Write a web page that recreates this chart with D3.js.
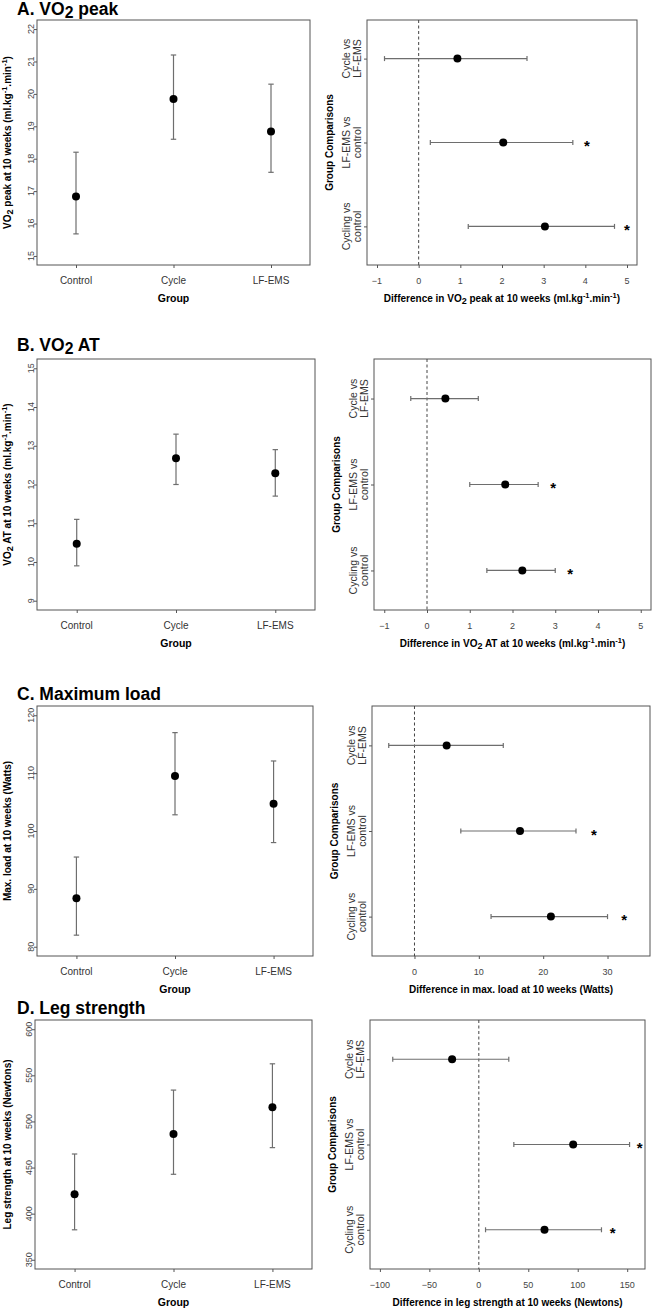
<!DOCTYPE html>
<html><head><meta charset="utf-8">
<script src="https://cdn.jsdelivr.net/npm/d3@7"></script>
<style>
body{margin:0;background:#fff}
text{font-family:"Liberation Sans",Arial,Helvetica,sans-serif}
</style>
</head><body>
<svg id="chart" width="653" height="1310"></svg>
<script>
// ---------- DATA ----------
const groups = ["Control", "Cycle", "LF-EMS"];
const comparisons = [["Cycle vs", "LF-EMS"], ["LF-EMS vs", "control"], ["Cycling vs", "control"]];

// A. VO2 peak
const vo2PeakTicks = [15, 16, 17, 18, 19, 20, 21, 22];
const vo2PeakMean = [16.83, 19.84, 18.84];
const vo2PeakLower = [15.68, 18.6, 17.58];
const vo2PeakUpper = [18.2, 21.2, 20.3];
const vo2PeakDiffTicks = [-1, 0, 1, 2, 3, 4, 5];
const vo2PeakDiff = [0.93, 2.03, 3.03];
const vo2PeakDiffLower = [-0.82, 0.28, 1.19];
const vo2PeakDiffUpper = [2.6, 3.7, 4.7];
const vo2PeakStar = [null, 4.04, 5.0];

// B. VO2 AT
const vo2AtTicks = [9, 10, 11, 12, 13, 14, 15];
const vo2AtMean = [10.47, 12.68, 12.29];
const vo2AtLower = [9.9, 12.0, 11.7];
const vo2AtUpper = [11.1, 13.3, 12.9];
const vo2AtDiffTicks = [-1, 0, 1, 2, 3, 4, 5];
const vo2AtDiff = [0.43, 1.83, 2.23];
const vo2AtDiffLower = [-0.38, 1.0, 1.4];
const vo2AtDiffUpper = [1.2, 2.6, 3.0];
const vo2AtStar = [null, 2.95, 3.35];

// C. Maximum load
const loadTicks = [80, 90, 100, 110, 120];
const loadMean = [88.4, 109.5, 104.7];
const loadLower = [82.0, 102.8, 98.0];
const loadUpper = [95.5, 117.0, 112.1];
const loadDiffTicks = [0, 10, 20, 30];
const loadDiff = [5.0, 16.4, 21.2];
const loadDiffLower = [-4.0, 7.2, 11.9];
const loadDiffUpper = [13.8, 25.1, 30.0];
const loadStar = [null, 27.9, 32.6];

// D. Leg strength
const legTicks = [350, 400, 450, 500, 550, 600];
const legMean = [421.0, 486.5, 515.3];
const legLower = [382.5, 442.7, 471.6];
const legUpper = [464.7, 534.0, 562.5];
const legDiffTicks = [-100, -50, 0, 50, 100, 150];
const legDiff = [-27.0, 95.4, 66.4];
const legDiffLower = [-87.0, 35.4, 6.8];
const legDiffUpper = [30.3, 152.4, 124.0];
const legStar = [null, 162.5, 135.2];

// ---------- PANELS ----------
const unitParts = [[" (ml.kg", ""], ["-1", "sup"], [".min", ""], ["-1", "sup"], [")", ""]];
const panels = [
  { title: [["A. VO", ""], ["2", "sub"], [" peak", ""]], titleBase: 14.5,
    top: 20, bottom: 265, lx: [37, 310], rx: [367, 637],
    yDomain: [14.72, 22.28], dDomain: [-1.24, 5.24],
    yTicks: vo2PeakTicks, dTicks: vo2PeakDiffTicks,
    mean: vo2PeakMean, lo: vo2PeakLower, hi: vo2PeakUpper,
    diff: vo2PeakDiff, dlo: vo2PeakDiffLower, dhi: vo2PeakDiffUpper, star: vo2PeakStar,
    yTitle: [["VO", ""], ["2", "sub"], [" peak at 10 weeks", ""], ...unitParts],
    dTitle: [["Difference in VO", ""], ["2", "sub"], [" peak at 10 weeks", ""], ...unitParts] },
  { title: [["B. VO", ""], ["2", "sub"], [" AT", ""]], titleBase: 350.5,
    top: 359, bottom: 610, lx: [37, 315], rx: [374, 651],
    yDomain: [8.76, 15.24], dDomain: [-1.24, 5.24],
    yTicks: vo2AtTicks, dTicks: vo2AtDiffTicks,
    mean: vo2AtMean, lo: vo2AtLower, hi: vo2AtUpper,
    diff: vo2AtDiff, dlo: vo2AtDiffLower, dhi: vo2AtDiffUpper, star: vo2AtStar,
    yTitle: [["VO", ""], ["2", "sub"], [" AT at 10 weeks", ""], ...unitParts],
    dTitle: [["Difference in VO", ""], ["2", "sub"], [" AT at 10 weeks", ""], ...unitParts] },
  { title: [["C. Maximum load", ""]], titleBase: 700,
    top: 706, bottom: 956, lx: [37, 313], rx: [372, 650],
    yDomain: [78.4, 121.6], dDomain: [-6.6, 36.6],
    yTicks: loadTicks, dTicks: loadDiffTicks,
    mean: loadMean, lo: loadLower, hi: loadUpper,
    diff: loadDiff, dlo: loadDiffLower, dhi: loadDiffUpper, star: loadStar,
    yTitle: [["Max. load at 10 weeks (Watts)", ""]],
    dTitle: [["Difference in max. load at 10 weeks (Watts)", ""]] },
  { title: [["D. Leg strength", ""]], titleBase: 1013.5,
    top: 1020, bottom: 1269, lx: [35, 312], rx: [370, 645],
    yDomain: [340, 610], dDomain: [-110, 168],
    yTicks: legTicks, dTicks: legDiffTicks,
    mean: legMean, lo: legLower, hi: legUpper,
    diff: legDiff, dlo: legDiffLower, dhi: legDiffUpper, star: legStar,
    yTitle: [["Leg strength at 10 weeks (Newtons)", ""]],
    dTitle: [["Difference in leg strength at 10 weeks (Newtons)", ""]] }
];

const svg = d3.select("#chart");
const FRAME = "#555", BAR = "#6e6e6e", TICKTXT = "#444";

function rich(textSel, parts, size) {
  let cur = 0;
  parts.forEach(([s, mode]) => {
    let target = 0, fs = size;
    if (mode === "sub") { target = size * 0.22; fs = size * 0.9; }
    if (mode === "sup") { target = -size * 0.38; fs = size * 0.75; }
    textSel.append("tspan").attr("dy", target - cur).attr("font-size", fs).text(s);
    cur = target;
  });
}

panels.forEach(p => {
  // title
  const t = svg.append("text").attr("x", 17).attr("y", p.titleBase)
    .attr("font-weight", "bold").attr("font-size", 17.5).attr("fill", "#000");
  rich(t, p.title, 17.5);

  // ---------- LEFT PANEL ----------
  const x = d3.scalePoint().domain(groups).range([p.lx[0], p.lx[1]]).padding(0.6 / 1.0);
  // padding so that group centres sit 0.4 step inside frame
  const xs = d3.scaleLinear().domain([0.6, 3.4]).range(p.lx);
  const xPos = g => xs(groups.indexOf(g) + 1);
  const y = d3.scaleLinear().domain(p.yDomain).range([p.bottom, p.top]);
  const gL = svg.append("g");
  gL.append("rect").attr("x", p.lx[0]).attr("y", p.top)
    .attr("width", p.lx[1] - p.lx[0]).attr("height", p.bottom - p.top)
    .attr("fill", "none").attr("stroke", FRAME).attr("stroke-width", 1);

  // y axis
  const yAx = gL.append("g").attr("transform", `translate(${p.lx[0]},0)`)
    .call(d3.axisLeft(y).tickValues(p.yTicks).tickSize(3).tickFormat(""));
  yAx.select(".domain").remove();
  yAx.selectAll("line").attr("stroke", FRAME);
  p.yTicks.forEach(v => {
    gL.append("text").attr("transform", `translate(${p.lx[0] - 3},${y(v)}) rotate(-90)`)
      .attr("text-anchor", "middle").attr("font-size", 9).attr("fill", TICKTXT).text(v);
  });
  // x axis
  const xAx = gL.append("g").attr("transform", `translate(0,${p.bottom})`)
    .call(d3.axisBottom(xs).tickValues([1, 2, 3]).tickSize(3).tickFormat(""));
  xAx.select(".domain").remove();
  xAx.selectAll("line").attr("stroke", FRAME);
  groups.forEach(g => {
    gL.append("text").attr("x", xPos(g)).attr("y", p.bottom + 18.5)
      .attr("text-anchor", "middle").attr("font-size", 10).attr("fill", "#333").text(g);
  });
  gL.append("text").attr("x", (p.lx[0] + p.lx[1]) / 2).attr("y", p.bottom + 37)
    .attr("text-anchor", "middle").attr("font-size", 10.5).attr("font-weight", "bold").text("Group");
  const yt = gL.append("text")
    .attr("transform", `translate(10.5,${(p.top + p.bottom) / 2}) rotate(-90)`)
    .attr("text-anchor", "middle").attr("font-size", 10).attr("font-weight", "bold");
  rich(yt, p.yTitle, 10);

  // error bars
  groups.forEach((g, i) => {
    const cx = xPos(g);
    gL.append("line").attr("x1", cx).attr("x2", cx).attr("y1", y(p.lo[i])).attr("y2", y(p.hi[i]))
      .attr("stroke", BAR).attr("stroke-width", 1.2);
    [p.lo[i], p.hi[i]].forEach(v => {
      gL.append("line").attr("x1", cx - 2.7).attr("x2", cx + 2.7).attr("y1", y(v)).attr("y2", y(v))
        .attr("stroke", BAR).attr("stroke-width", 1.2);
    });
    gL.append("circle").attr("cx", cx).attr("cy", y(p.mean[i])).attr("r", 4).attr("fill", "#000");
  });

  // ---------- RIGHT PANEL ----------
  const d = d3.scaleLinear().domain(p.dDomain).range(p.rx);
  const c = d3.scaleLinear().domain([0.54, 3.46]).range([p.top, p.bottom]);
  const gR = svg.append("g");
  gR.append("rect").attr("x", p.rx[0]).attr("y", p.top)
    .attr("width", p.rx[1] - p.rx[0]).attr("height", p.bottom - p.top)
    .attr("fill", "none").attr("stroke", FRAME).attr("stroke-width", 1);
  // zero line
  gR.append("line").attr("x1", d(0)).attr("x2", d(0)).attr("y1", p.top).attr("y2", p.bottom)
    .attr("stroke", "#444").attr("stroke-width", 1).attr("stroke-dasharray", "3,2.5");
  // x axis
  const dAx = gR.append("g").attr("transform", `translate(0,${p.bottom})`)
    .call(d3.axisBottom(d).tickValues(p.dTicks).tickSize(3).tickFormat(""));
  dAx.select(".domain").remove();
  dAx.selectAll("line").attr("stroke", FRAME);
  p.dTicks.forEach(v => {
    gR.append("text").attr("x", d(v)).attr("y", p.bottom + 18.5)
      .attr("text-anchor", "middle").attr("font-size", 9).attr("fill", TICKTXT)
      .text(v < 0 ? "\u2212" + Math.abs(v) : v);
  });
  const dt = gR.append("text").attr("x", (p.rx[0] + p.rx[1]) / 2).attr("y", p.bottom + 37)
    .attr("text-anchor", "middle").attr("font-size", 10).attr("font-weight", "bold");
  rich(dt, p.dTitle, 10);
  // y axis (comparisons)
  const cAx = gR.append("g").attr("transform", `translate(${p.rx[0]},0)`)
    .call(d3.axisLeft(c).tickValues([1, 2, 3]).tickSize(3).tickFormat(""));
  cAx.select(".domain").remove();
  cAx.selectAll("line").attr("stroke", FRAME);
  comparisons.forEach((lines, i) => {
    const cy = c(i + 1);
    lines.forEach((ln, j) => {
      gR.append("text").attr("transform", `translate(${p.rx[0] - 17.5 + j * 11},${cy}) rotate(-90)`)
        .attr("text-anchor", "middle").attr("font-size", 10.5).attr("fill", "#333").text(ln);
    });
  });
  gR.append("text").attr("transform", `translate(${p.rx[0] - 34},${(p.top + p.bottom) / 2}) rotate(-90)`)
    .attr("text-anchor", "middle").attr("font-size", 10).attr("font-weight", "bold").text("Group Comparisons");

  comparisons.forEach((lines, i) => {
    const cy = c(i + 1);
    gR.append("line").attr("x1", d(p.dlo[i])).attr("x2", d(p.dhi[i])).attr("y1", cy).attr("y2", cy)
      .attr("stroke", BAR).attr("stroke-width", 1.2);
    [p.dlo[i], p.dhi[i]].forEach(v => {
      gR.append("line").attr("x1", d(v)).attr("x2", d(v)).attr("y1", cy - 2.5).attr("y2", cy + 2.5)
        .attr("stroke", BAR).attr("stroke-width", 1.2);
    });
    gR.append("circle").attr("cx", d(p.diff[i])).attr("cy", cy).attr("r", 4).attr("fill", "#000");
    if (p.star[i] != null) {
      gR.append("text").attr("x", d(p.star[i])).attr("y", cy + 8.5)
        .attr("text-anchor", "middle").attr("font-size", 15).attr("font-weight", "bold").text("*");
    }
  });
});
</script>
</body></html>
